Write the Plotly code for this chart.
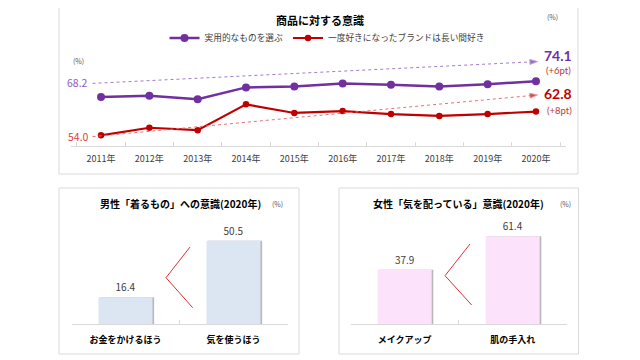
import plotly.graph_objects as go

# page has an 8px body margin: figure is sized to fill the rest of the window
OFF = 8
W, H = 640 - OFF, 360 - OFF
def px(x): return (x - OFF) / W
def py(y): return 1 - (y - OFF) / H

FONT = "Noto Sans CJK JP"
NUMFONT = "Lato"
PURPLE = "#7030a0"
RED = "#c00000"

# ---------------- data ----------------
years = ["2011年", "2012年", "2013年", "2014年", "2015年",
         "2016年", "2017年", "2018年", "2019年", "2020年"]
practical = [68.2, 68.7, 67.4, 71.8, 72.1, 73.3, 72.8, 72.1, 73.0, 74.1]
loyal = [54.0, 56.8, 55.9, 65.5, 62.3, 63.0, 61.9, 61.2, 61.9, 62.8]
series_names = ["実用的なものを選ぶ", "一度好きになったブランドは長い間好き"]

# decorative trend arrows (x as category index, y in chart units)
trend_x = [-0.07, 8.93]
trend_practical = [73.3, 81.4]
trend_loyal = [53.5, 69.0]
trend_labels_practical = ["68.2", "74.1", "(+6pt)"]
trend_labels_loyal = ["54.0", "62.8", "(+8pt)"]

men_cats = ["お金をかけるほう", "気を使うほう"]
men_vals = [16.4, 50.5]
women_cats = ["メイクアップ", "肌の手入れ"]
women_vals = [37.9, 61.4]

top_title = "商品に対する意識"
men_title = "男性「着るもの」への意識(2020年)"
women_title = "女性「気を配っている」意識(2020年)"

fig = go.Figure()

# ---------------- top line chart ----------------
fig.add_trace(go.Scatter(
    x=years, y=practical, name=series_names[0], mode="lines+markers",
    line=dict(color=PURPLE, width=2.5), marker=dict(size=8, color=PURPLE),
    xaxis="x", yaxis="y", cliponaxis=False))
fig.add_trace(go.Scatter(
    x=years, y=loyal, name=series_names[1], mode="lines+markers",
    line=dict(color=RED, width=2.2), marker=dict(size=6.5, color=RED),
    xaxis="x", yaxis="y", cliponaxis=False))

for ys, lc, mc in [(trend_practical, "#a37ad0", PURPLE), (trend_loyal, "#e87070", RED)]:
    fig.add_trace(go.Scatter(
        x=trend_x, y=ys, mode="lines+markers", showlegend=False, hoverinfo="skip",
        line=dict(color=lc, width=1, dash="dot"),
        marker=dict(symbol="arrow", angleref="previous", size=[0, 8], color=mc),
        xaxis="x4", yaxis="y", cliponaxis=False))

ann = []
def note(text, x, y, xref="paper", yref="paper", size=9, color="#404040",
         xanchor="center", yanchor="middle", bold=False, xshift=0, yshift=0, family=FONT):
    ann.append(dict(text=text, x=x, y=y, xref=xref, yref=yref, showarrow=False,
                    xanchor=xanchor, yanchor=yanchor, xshift=xshift, yshift=yshift,
                    font=dict(family=family, size=size, color=color,
                              weight="bold" if bold else "normal")))

note(trend_labels_practical[0], trend_x[0], trend_practical[0], "x4", "y",
     size=10.5, color="#8e5cc0", xanchor="right", xshift=-3, yshift=1)
note(trend_labels_loyal[0], trend_x[0], trend_loyal[0], "x4", "y",
     size=10.5, color="#e03c3c", xanchor="right", xshift=-2)
note(trend_labels_practical[1], trend_x[1], trend_practical[1], "x4", "y",
     size=14, color=PURPLE, xanchor="left", bold=True, xshift=4, yshift=6, family=NUMFONT)
note(trend_labels_loyal[1], trend_x[1], trend_loyal[1], "x4", "y",
     size=14, color=RED, xanchor="left", bold=True, xshift=4, yshift=1, family=NUMFONT)
note(trend_labels_practical[2], trend_x[1], trend_practical[1], "x4", "y",
     size=9.5, color="#b83838", xanchor="left", xshift=6, yshift=-8.5, family=NUMFONT)
note(trend_labels_loyal[2], trend_x[1], trend_loyal[1], "x4", "y",
     size=9.5, color="#b83838", xanchor="left", xshift=7, yshift=-16, family=NUMFONT)

note(top_title, px(320), py(20), size=11, color="#000000", bold=True)
note("(%)", px(552), py(17), size=7, color="#595959")
note("(%)", px(78), py(61), size=7, color="#595959")

# ---------------- bottom bar charts ----------------
for cats, vals, col, xa, ya in [(men_cats, men_vals, "#dce6f2", "x2", "y2"),
                                 (women_cats, women_vals, "#fce2fb", "x3", "y3")]:
    fig.add_trace(go.Bar(
        x=cats, y=vals, width=0.5, offset=-0.235,
        marker=dict(color="rgba(0,0,0,0.28)", line_width=0),
        showlegend=False, hoverinfo="skip", xaxis=xa, yaxis=ya))
    fig.add_trace(go.Bar(
        x=cats, y=vals, width=0.5, offset=-0.25, marker=dict(color=col, line_width=0),
        text=[f"{v:.1f}" for v in vals], textposition="outside", cliponaxis=False,
        textfont=dict(family=FONT, size=10, color="#404040"),
        showlegend=False, xaxis=xa, yaxis=ya))

note(men_title, px(180), py(204), size=10, color="#000000", bold=True)
note("(%)", px(277), py(204), size=7, color="#595959")
note(women_title, px(458), py(204), size=10, color="#000000", bold=True)
note("(%)", px(565), py(204), size=7, color="#595959")

# ---------------- decorative shapes ----------------
shapes = []
for x0, y0, x1, y1 in [(59, 5, 578, 174), (59, 188, 299, 354), (339, 188, 578.5, 354)]:
    shapes.append(dict(type="rect", xref="paper", yref="paper",
                       x0=px(x0), x1=px(x1), y0=py(y1), y1=py(y0),
                       line=dict(color="#d9d9d9", width=1), layer="below"))
for pts in [[(190, 247), (166, 277.7), (192.7, 307.7)],
            [(470, 244), (445, 275.7), (471.7, 305)]]:
    path = "M " + " L ".join(f"{px(a):.4f},{py(b):.4f}" for a, b in pts)
    shapes.append(dict(type="path", xref="paper", yref="paper", path=path,
                       line=dict(color="#e03030", width=1)))

axis_common = dict(showgrid=False, zeroline=False, showline=True, linecolor="#d9d9d9",
                   linewidth=1, ticks="inside", ticklen=4, tickcolor="#d9d9d9",
                   tickson="boundaries", fixedrange=True)

fig.update_layout(
    width=W, height=H, autosize=False,
    margin=dict(l=0, r=0, t=0, b=0),
    paper_bgcolor="white", plot_bgcolor="rgba(0,0,0,0)",
    barmode="overlay",
    font=dict(family=FONT, color="#404040"),
    showlegend=True,
    legend=dict(orientation="h", x=px(327), y=py(38), xanchor="center", yanchor="middle",
                font=dict(family=FONT, size=8.7, color="#404040"), itemwidth=30,
                bgcolor="rgba(0,0,0,0)", tracegroupgap=0),
    xaxis=dict(domain=[px(71.3), px(565.7)], type="category",
               tickfont=dict(size=9, color="#404040"), ticklabelstandoff=4, **axis_common),
    xaxis4=dict(domain=[px(71.3), px(565.7)], range=[-0.5, 9.5], overlaying="x",
                visible=False, fixedrange=True),
    yaxis=dict(domain=[py(145.7), py(55)], range=[50.13, 83.85], visible=False, fixedrange=True),
    xaxis2=dict(domain=[px(71.5), px(287.5)], type="category",
                tickfont=dict(size=9, color="#000000", weight="bold"), ticklabelstandoff=7,
                anchor="y2", **axis_common),
    yaxis2=dict(domain=[py(324.3), py(220)], range=[0, (324.3 - 220) / 1.655],
                visible=False, fixedrange=True, anchor="x2"),
    xaxis3=dict(domain=[px(350.7), px(566.7)], type="category",
                tickfont=dict(size=9, color="#000000", weight="bold"), ticklabelstandoff=7,
                anchor="y3", **axis_common),
    yaxis3=dict(domain=[py(324), py(220)], range=[0, (324 - 220) / 1.43],
                visible=False, fixedrange=True, anchor="x3"),
    annotations=ann, shapes=shapes,
)

fig.write_html("out.html")
